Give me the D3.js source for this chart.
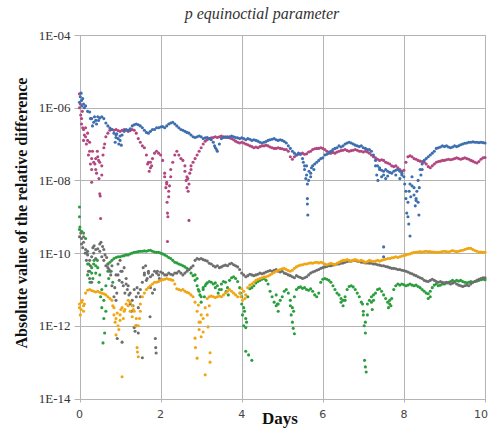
<!DOCTYPE html>
<html><head><meta charset="utf-8">
<script src="https://cdn.jsdelivr.net/npm/d3@7"></script>
<style>body{margin:0;background:#fff}</style>
</head><body>
<svg id="c" width="489" height="430"></svg>
<script>
// log10 of |relative difference|, sampled every 0.05 day from 0 to 10
const blueLog = [
-5.85,-5.8,-5.9,-5.95,-6.1,-6.12,-6.3,-6.4,-6.35,-6.25,-6.28,-6.25,-6.3,-6.42,-6.5,-6.56,-6.6,-6.7,-6.75,-6.85,
-6.9,-6.75,-6.65,-6.6,-6.62,-6.58,-6.5,-6.47,-6.45,-6.47,-6.5,-6.55,-6.62,-6.68,-6.7,-6.65,-6.6,-6.6,-6.55,-6.55,
-6.53,-6.52,-6.55,-6.5,-6.45,-6.42,-6.4,-6.45,-6.5,-6.55,-6.6,-6.62,-6.65,-6.68,-6.7,-6.75,-6.8,-6.82,-6.8,-6.78,
-6.8,-6.85,-6.83,-6.82,-6.85,-6.88,-6.95,-7.1,-7.2,-7.0,-6.85,-6.82,-6.8,-6.82,-6.8,-6.78,-6.8,-6.82,-6.83,-6.85,
-6.83,-6.85,-6.88,-6.85,-6.87,-6.9,-6.88,-6.9,-6.92,-6.95,-6.97,-6.95,-6.93,-6.9,-6.88,-6.87,-6.85,-6.88,-6.9,-6.88,
-6.9,-6.93,-6.97,-7.05,-7.12,-7.2,-7.25,-7.3,-7.25,-7.28,-7.4,-7.6,-7.85,-8.0,-7.8,-7.6,-7.55,-7.5,-7.45,-7.4,
-7.38,-7.3,-7.28,-7.25,-7.2,-7.15,-7.12,-7.1,-7.05,-7.08,-7.05,-7.0,-6.97,-6.95,-6.97,-7.0,-7.03,-7.05,-7.07,-7.05,
-7.1,-7.12,-7.15,-7.15,-7.2,-7.3,-7.45,-7.6,-7.7,-7.72,-7.75,-7.7,-7.75,-7.78,-7.8,-7.75,-7.72,-7.7,-7.75,-7.8,
-7.9,-8.3,-8.6,-8.1,-7.9,-8.2,-8.5,-8.0,-7.7,-7.55,-7.45,-7.4,-7.35,-7.3,-7.25,-7.2,-7.12,-7.1,-7.08,-7.05,
-7.07,-7.05,-7.08,-7.1,-7.08,-7.05,-7.07,-7.05,-7.02,-7.0,-6.98,-6.97,-6.95,-6.95,-6.94,-6.95,-6.95,-6.96,-6.95,-6.96,
-6.97];
const magentaLog = [
-6.0,-6.3,-6.6,-6.8,-6.9,-7.2,-7.4,-7.5,-7.4,-7.35,-7.5,-7.6,-7.1,-6.8,-6.7,-6.62,-6.6,-6.62,-6.6,-6.63,
-6.65,-6.62,-6.6,-6.62,-6.65,-6.63,-6.6,-6.62,-6.7,-6.85,-6.95,-7.05,-7.1,-7.3,-7.5,-7.65,-7.4,-7.25,-7.2,-7.25,
-7.3,-7.45,-7.8,-8.1,-8.3,-7.9,-7.5,-7.3,-7.2,-7.3,-7.4,-7.45,-7.6,-7.9,-8.1,-7.7,-7.5,-7.4,-7.3,-7.2,
-7.1,-7.0,-6.92,-6.88,-6.85,-6.83,-6.82,-6.8,-6.82,-6.8,-6.78,-6.8,-6.82,-6.8,-6.83,-6.85,-6.88,-6.92,-6.95,-6.97,
-6.95,-6.97,-7.0,-7.02,-7.05,-7.07,-7.1,-7.08,-7.1,-7.07,-7.05,-7.05,-7.03,-7.05,-7.08,-7.1,-7.12,-7.12,-7.1,-7.12,
-7.13,-7.15,-7.15,-7.2,-7.35,-7.42,-7.35,-7.3,-7.28,-7.27,-7.25,-7.28,-7.27,-7.22,-7.2,-7.15,-7.13,-7.12,-7.12,-7.1,
-7.12,-7.15,-7.2,-7.22,-7.25,-7.23,-7.25,-7.22,-7.2,-7.18,-7.17,-7.15,-7.18,-7.2,-7.18,-7.17,-7.15,-7.17,-7.2,-7.2,
-7.22,-7.2,-7.22,-7.25,-7.3,-7.35,-7.38,-7.42,-7.45,-7.43,-7.45,-7.5,-7.52,-7.55,-7.6,-7.62,-7.6,-7.65,-7.7,-7.75,
-7.72,-7.5,-7.35,-7.32,-7.35,-7.4,-7.42,-7.45,-7.47,-7.48,-7.5,-7.55,-7.62,-7.65,-7.6,-7.55,-7.5,-7.48,-7.47,-7.45,
-7.45,-7.43,-7.42,-7.43,-7.42,-7.4,-7.38,-7.4,-7.42,-7.4,-7.38,-7.4,-7.42,-7.45,-7.47,-7.5,-7.52,-7.48,-7.42,-7.38,
-7.37];
const greenLog = [
-9.35,-9.4,-9.45,-9.6,-10.3,-10.5,-10.4,-10.3,-10.35,-10.4,-10.6,-11.0,-11.3,-10.9,-10.5,-10.25,-10.2,-10.15,-10.12,-10.1,
-10.1,-10.08,-10.07,-10.05,-10.05,-10.02,-10.0,-9.98,-9.97,-9.96,-9.95,-9.95,-9.94,-9.95,-9.93,-9.92,-9.95,-9.97,-9.98,-9.98,
-10.0,-10.02,-10.05,-10.08,-10.12,-10.15,-10.2,-10.25,-10.27,-10.3,-10.32,-10.35,-10.38,-10.42,-10.45,-10.55,-10.62,-10.75,-10.9,-11.05,
-11.2,-11.0,-10.9,-10.82,-10.78,-10.8,-10.85,-10.82,-10.9,-11.0,-10.85,-10.78,-10.8,-10.95,-10.75,-10.68,-10.65,-10.7,-10.78,-10.95,
-11.2,-11.5,-11.8,-11.2,-10.98,-10.95,-10.9,-10.82,-10.78,-10.75,-10.72,-10.7,-10.75,-10.85,-11.05,-11.2,-11.35,-11.45,-11.4,-11.3,
-11.2,-11.05,-11.0,-11.1,-11.3,-11.5,-11.2,-11.0,-10.95,-10.93,-10.97,-10.95,-11.0,-11.02,-10.98,-11.05,-11.15,-11.2,-11.1,-10.8,
-10.72,-10.7,-10.72,-10.75,-10.8,-10.9,-11.0,-11.1,-11.15,-11.25,-11.3,-11.2,-11.0,-10.92,-10.9,-10.93,-11.0,-11.1,-11.2,-11.35,
-11.6,-11.9,-11.4,-11.3,-11.2,-11.15,-11.1,-11.0,-10.98,-11.05,-11.15,-11.25,-11.35,-11.4,-11.25,-11.0,-10.9,-10.85,-10.88,-10.85,
-10.87,-10.9,-10.88,-10.85,-10.88,-10.9,-10.88,-10.92,-10.95,-11.0,-11.05,-11.1,-11.12,-11.05,-10.95,-10.88,-10.85,-10.9,-10.88,-10.85,
-10.85,-10.82,-10.8,-10.78,-10.75,-10.78,-10.75,-10.77,-10.75,-10.78,-10.8,-10.82,-10.8,-10.78,-10.8,-10.78,-10.77,-10.75,-10.73,-10.72,
-10.73];
const grayLog = [
-9.55,-9.6,-9.7,-9.9,-10.05,-10.2,-10.1,-10.0,-9.9,-9.88,-9.95,-10.1,-10.2,-10.35,-10.4,-10.5,-10.9,-11.2,-10.6,-10.3,
-10.2,-10.5,-10.4,-10.7,-10.9,-11.1,-11.3,-11.0,-11.2,-11.5,-11.2,-10.8,-10.6,-10.75,-10.55,-10.65,-10.6,-10.5,-10.55,-10.6,
-10.52,-10.55,-10.6,-10.6,-10.55,-10.58,-10.6,-10.55,-10.55,-10.5,-10.55,-10.6,-10.55,-10.5,-10.45,-10.4,-10.35,-10.2,-10.15,-10.17,
-10.15,-10.18,-10.2,-10.22,-10.28,-10.3,-10.35,-10.38,-10.35,-10.4,-10.38,-10.35,-10.33,-10.35,-10.3,-10.28,-10.32,-10.35,-10.38,-10.45,
-10.55,-10.6,-10.65,-10.62,-10.58,-10.6,-10.62,-10.6,-10.58,-10.55,-10.57,-10.55,-10.52,-10.5,-10.48,-10.5,-10.47,-10.45,-10.5,-10.52,
-10.5,-10.55,-10.57,-10.6,-10.62,-10.65,-10.68,-10.62,-10.65,-10.67,-10.7,-10.68,-10.65,-10.6,-10.55,-10.52,-10.5,-10.47,-10.45,-10.42,
-10.4,-10.38,-10.37,-10.35,-10.35,-10.33,-10.32,-10.3,-10.3,-10.28,-10.27,-10.25,-10.23,-10.22,-10.22,-10.2,-10.2,-10.22,-10.23,-10.25,
-10.25,-10.27,-10.27,-10.28,-10.28,-10.3,-10.3,-10.32,-10.33,-10.35,-10.35,-10.37,-10.38,-10.4,-10.42,-10.42,-10.43,-10.45,-10.45,-10.47,
-10.48,-10.5,-10.52,-10.55,-10.57,-10.6,-10.62,-10.65,-10.68,-10.7,-10.75,-10.77,-10.78,-10.75,-10.72,-10.75,-10.78,-10.8,-10.78,-10.8,
-10.82,-10.8,-10.82,-10.85,-10.83,-10.8,-10.85,-10.88,-10.9,-10.92,-10.9,-10.88,-10.9,-10.85,-10.8,-10.78,-10.75,-10.72,-10.7,-10.68,
-10.68];
const orangeLog = [
-11.4,-11.35,-11.45,-11.1,-11.02,-11.0,-11.03,-11.05,-11.07,-11.05,-11.08,-11.1,-11.12,-11.15,-11.2,-11.25,-11.3,-11.5,-11.8,-12.0,
-11.7,-11.5,-11.6,-11.4,-11.3,-11.35,-11.45,-11.6,-11.8,-12.0,-11.6,-11.2,-11.1,-11.0,-10.95,-10.9,-10.85,-10.8,-10.8,-10.78,
-10.75,-10.73,-10.72,-10.7,-10.72,-10.73,-10.75,-10.85,-10.98,-11.0,-11.02,-11.0,-11.05,-11.08,-11.1,-11.15,-11.2,-11.35,-11.6,-11.9,
-12.3,-11.8,-11.5,-11.25,-11.2,-11.18,-11.2,-11.22,-11.2,-11.18,-11.2,-11.15,-11.1,-11.05,-11.0,-11.05,-11.1,-11.15,-11.2,-11.1,
-10.98,-11.05,-11.15,-10.95,-10.88,-10.85,-10.8,-10.75,-10.72,-10.7,-10.68,-10.66,-10.65,-10.63,-10.6,-10.57,-10.53,-10.5,-10.47,-10.45,
-10.43,-10.42,-10.45,-10.48,-10.5,-10.47,-10.42,-10.38,-10.35,-10.33,-10.32,-10.3,-10.3,-10.28,-10.27,-10.28,-10.26,-10.25,-10.27,-10.25,
-10.27,-10.3,-10.32,-10.3,-10.28,-10.3,-10.32,-10.28,-10.25,-10.22,-10.2,-10.2,-10.18,-10.2,-10.22,-10.2,-10.18,-10.2,-10.22,-10.2,
-10.22,-10.25,-10.23,-10.2,-10.22,-10.23,-10.22,-10.2,-10.22,-10.2,-10.18,-10.17,-10.15,-10.15,-10.13,-10.12,-10.1,-10.12,-10.1,-10.08,
-10.07,-10.05,-10.03,-10.02,-10.0,-9.98,-9.98,-9.97,-9.96,-9.97,-9.96,-9.95,-9.96,-9.96,-9.97,-9.97,-9.98,-9.98,-9.97,-9.96,
-9.95,-9.96,-9.97,-9.95,-9.93,-9.95,-9.96,-9.95,-9.93,-9.92,-9.9,-9.88,-9.87,-9.87,-9.9,-9.93,-9.95,-9.97,-9.97,-9.98,
-9.98];

// extra scattered samples [day, log10 value]
const blueScatter = [[0.02,-5.7],[0.04,-5.6],[0.06,-5.95],[0.08,-5.75],[0.12,-6.0],[0.27,-6.3],[0.32,-6.5],[0.37,-6.25],[0.42,-6.45],[0.47,-6.35],
[0.88,-6.95],[0.9,-6.82],[0.92,-6.72],[0.97,-7.0],[1.0,-6.78],[1.03,-7.03],[3.33,-7.05],[3.38,-7.15],
[5.52,-7.5],[5.55,-7.7],[5.58,-7.95],[5.6,-7.6],[5.62,-8.1],[5.62,-8.5],[5.62,-8.65],[5.63,-8.95],[5.66,-7.75],[5.7,-7.9],[5.72,-7.65],[5.78,-7.7],
[7.3,-7.6],[7.33,-7.85],[7.36,-8.0],[7.4,-7.65],[7.45,-7.9],[7.5,-7.85],[7.5,-9.83],[7.5,-10.1],[7.55,-7.95],[7.6,-7.88],[7.8,-7.85],[7.9,-7.95],[7.95,-7.85],
[8.02,-8.1],[8.05,-8.5],[8.07,-8.9],[8.1,-9.0],[8.12,-9.2],[8.15,-9.53],[8.13,-8.3],[8.17,-8.45],[8.2,-8.15],[8.25,-8.4],[8.28,-8.7],[8.3,-8.55],[8.32,-8.3],[8.35,-8.6],[8.37,-8.95],[8.38,-8.2],[8.42,-7.85],[8.45,-7.7]];
const magentaScatter = [[0.0,-5.62],[0.02,-5.9],[0.03,-6.2],[0.05,-6.45],[0.07,-6.1],[0.08,-6.55],[0.1,-6.9],[0.12,-6.75],[0.15,-6.55],[0.17,-7.0],[0.2,-6.7],[0.22,-7.3],[0.25,-6.95],[0.27,-7.55],[0.3,-7.7],[0.32,-7.2],[0.3,-8.05],[0.38,-7.55],[0.4,-7.7],[0.42,-7.8],[0.44,-7.2],[0.47,-7.45],[0.48,-7.95],[0.5,-8.37],[0.51,-8.43],[0.52,-9.05],[0.55,-7.85],[0.58,-7.3],[0.62,-7.0],
[1.68,-7.55],[1.72,-7.75],[1.75,-7.5],[1.78,-7.6],
[2.1,-7.9],[2.13,-8.2],[2.15,-8.05],[2.16,-8.6],[2.17,-8.9],[2.18,-9.0],[2.17,-9.68],[2.2,-8.45],[2.22,-8.15],[2.25,-7.7],
[2.6,-7.75],[2.63,-8.0],[2.65,-8.2],[2.67,-7.95],[2.68,-8.3],[2.7,-9.1],[2.72,-7.8],[2.75,-7.6]];
const greenScatter = [[0.0,-8.73],[0.0,-9.0],[0.01,-9.28],[0.18,-10.0],[0.2,-10.6],[0.23,-10.3],[0.26,-10.8],[0.3,-10.55],[0.33,-10.7],[0.36,-10.2],[0.4,-10.55],[0.44,-10.2],[0.48,-10.8],[0.52,-11.2],[0.55,-11.5],[0.58,-12.47],[0.62,-12.2],[0.6,-11.8],[0.65,-11.6],[0.7,-10.3],[0.72,-10.7],[0.78,-10.5],[0.82,-10.8],
[2.85,-10.6],[2.9,-10.7],[2.93,-11.0],[2.97,-11.15],[3.0,-11.35],[3.05,-10.95],[3.08,-11.2],[3.12,-10.85],
[3.35,-10.95],[3.42,-11.1],[3.5,-11.0],[3.62,-11.05],[3.67,-11.15],
[3.97,-11.1],[4.0,-11.4],[4.02,-11.7],[4.05,-12.0],[4.07,-11.6],[4.1,-12.05],[4.1,-12.7],[4.17,-12.8],[4.25,-12.95],[4.12,-11.9],
[4.85,-11.15],[4.88,-11.4],[4.9,-11.6],
[5.2,-11.45],[5.22,-11.7],[5.25,-11.9],[5.27,-12.07],[5.3,-12.22],[5.28,-11.6],
[6.45,-11.35],[6.5,-11.45],[6.55,-11.3],
[6.98,-11.4],[7.0,-11.7],[7.02,-12.0],[7.05,-12.2],[7.03,-12.95],[7.05,-13.13],[7.07,-13.27],[7.1,-11.7],
[7.2,-11.35],[7.22,-11.55],[7.25,-11.3],[7.62,-11.5],[7.65,-11.3],[7.68,-11.45],[8.6,-11.25],[8.65,-11.2]];
const grayScatter = [[0.03,-9.45],[0.05,-9.75],[0.08,-9.85],[0.1,-9.55],[0.14,-10.0],[0.17,-10.2],[0.2,-9.95],[0.22,-10.5],[0.25,-10.7],[0.27,-10.35],[0.3,-10.8],[0.33,-9.85],[0.36,-9.8],[0.4,-10.15],[0.5,-9.75],[0.53,-9.7],[0.57,-9.82],[0.6,-9.9],[0.63,-10.05],[0.67,-10.12],[0.7,-10.3],[0.73,-10.45],[0.77,-10.6],[0.8,-10.35],[0.87,-10.95],[0.9,-11.3],[0.92,-11.1],[0.95,-10.6],[0.98,-10.75],[1.02,-10.5],[1.05,-10.8],[0.93,-12.35],[1.05,-12.45],[1.08,-10.9],[1.12,-11.1],[1.15,-10.85],[1.18,-11.0],[1.22,-11.15],[1.25,-11.4],[1.28,-11.6],[1.32,-11.45],[1.35,-12.05],[1.37,-12.15],[1.42,-10.95],[1.45,-11.1],[1.5,-11.0],[1.55,-12.88],[1.57,-10.4],[1.6,-10.55],[1.63,-10.35],[1.67,-10.7],[1.7,-10.5],[1.74,-11.75],[1.75,-10.95],[1.8,-11.1],[1.85,-11.0],[1.87,-12.35],[1.88,-12.6],[1.89,-12.75],[1.92,-10.5],[1.97,-10.7],[1.4,-12.0],[1.45,-12.2]];
const orangeScatter = [[0.0,-11.5],[0.02,-11.7],[0.04,-11.55],[0.07,-11.3],[0.1,-11.6],[0.12,-11.4],
[0.82,-11.45],[0.85,-11.7],[0.88,-11.9],[0.9,-12.25],[0.93,-11.65],[0.97,-12.1],[1.0,-11.85],[1.02,-11.55],[1.05,-13.4],[1.08,-11.8],
[1.12,-11.55],[1.2,-11.45],[1.25,-11.6],[1.3,-11.75],[1.33,-11.55],[1.38,-12.0],[1.42,-12.6],[1.43,-12.72],[1.45,-12.85],[1.48,-11.8],[1.5,-11.4],
[2.85,-12.34],[2.86,-12.6],[2.9,-12.89],[2.93,-11.43],[2.98,-11.9],[3.05,-12.17],[3.1,-13.35],[3.15,-11.7],[3.17,-12.03],[3.22,-13.0],[3.22,-12.74],[3.2,-11.45],[2.95,-12.1],[3.0,-11.7],
[3.98,-11.2],[4.02,-11.3],[4.08,-11.25]];

const xTicks = [0, 2, 4, 6, 8, 10];
const yTicks = [1e-4, 1e-6, 1e-8, 1e-10, 1e-12, 1e-14];
const yTickLabels = ["1E-04", "1E-06", "1E-08", "1E-10", "1E-12", "1E-14"];
const titleText = "p equinoctial parameter";
const xTitle = "Days";
const yTitle = "Absolute value of the relative difference";

const series = [
  {name: "magenta", vals: magentaLog, extra: magentaScatter, color: "#b2467f"},
  {name: "blue", vals: blueLog, extra: blueScatter, color: "#3d6fae"},
  {name: "green", vals: greenLog, extra: greenScatter, color: "#2a9e3c"},
  {name: "gray", vals: grayLog, extra: grayScatter, color: "#6e6e6e"},
  {name: "orange", vals: orangeLog, extra: orangeScatter, color: "#f0a614"}
];

const svg = d3.select("#c");
const pLeft = 79.5, pRight = 485, pTop = 35, pBottom = 398.5;
const x = d3.scaleLinear().domain([0, 10]).range([pLeft, pRight]);
const y = d3.scaleLog().domain([1e-14, 1e-4]).range([pBottom, pTop]);

// grid
const grid = svg.append("g");
grid.selectAll(".vg").data(xTicks).enter().append("line")
  .attr("x1", d => Math.round(x(d)) + 0.5).attr("x2", d => Math.round(x(d)) + 0.5)
  .attr("y1", pTop).attr("y2", pBottom + 4)
  .attr("stroke", "#b4b4b4").attr("stroke-width", 1);
grid.selectAll(".hg").data(yTicks).enter().append("line")
  .attr("x1", pLeft - 5).attr("x2", pRight)
  .attr("y1", d => Math.round(y(d)) + 0.5).attr("y2", d => Math.round(y(d)) + 0.5)
  .attr("stroke", "#b4b4b4").attr("stroke-width", 1);

// points
series.forEach(s => {
  const n = s.vals.length;
  const pts = s.vals.map((v, i) => [i * 10 / (n - 1), v]).concat(s.extra);
  svg.append("g").selectAll("circle").data(pts).enter().append("circle")
    .attr("cx", d => x(d[0]))
    .attr("cy", d => y(Math.pow(10, d[1])))
    .attr("r", 1.55)
    .attr("fill", s.color);
});

// y axis labels
svg.append("g").selectAll("text").data(yTicks).enter().append("text")
  .attr("x", pLeft - 9).attr("y", d => y(d) + 4.5)
  .attr("text-anchor", "end")
  .attr("font-family", "Liberation Serif, serif").attr("font-size", 13)
  .attr("fill", "#333")
  .text((d, i) => yTickLabels[i]);

// x axis labels
svg.append("g").selectAll("text").data(xTicks).enter().append("text")
  .attr("x", d => d === 10 ? 488 : x(d)).attr("y", 418)
  .attr("text-anchor", d => d === 10 ? "end" : "middle")
  .attr("font-family", "DejaVu Sans, sans-serif").attr("font-size", 11)
  .attr("fill", "#444")
  .text(d => d);

svg.append("text").attr("x", 262).attr("y", 19).attr("text-anchor", "middle")
  .attr("font-family", "Liberation Serif, serif").attr("font-style", "italic")
  .attr("font-size", 16).attr("fill", "#333").text(titleText);

svg.append("text").attr("x", 280).attr("y", 424).attr("text-anchor", "middle")
  .attr("font-family", "Liberation Serif, serif").attr("font-weight", "bold")
  .attr("font-size", 17).attr("fill", "#111").text(xTitle);

svg.append("text").attr("transform", "translate(27,213) rotate(-90)")
  .attr("text-anchor", "middle")
  .attr("font-family", "Liberation Serif, serif").attr("font-weight", "bold")
  .attr("font-size", 16).attr("fill", "#111").text(yTitle);
</script>
</body></html>
